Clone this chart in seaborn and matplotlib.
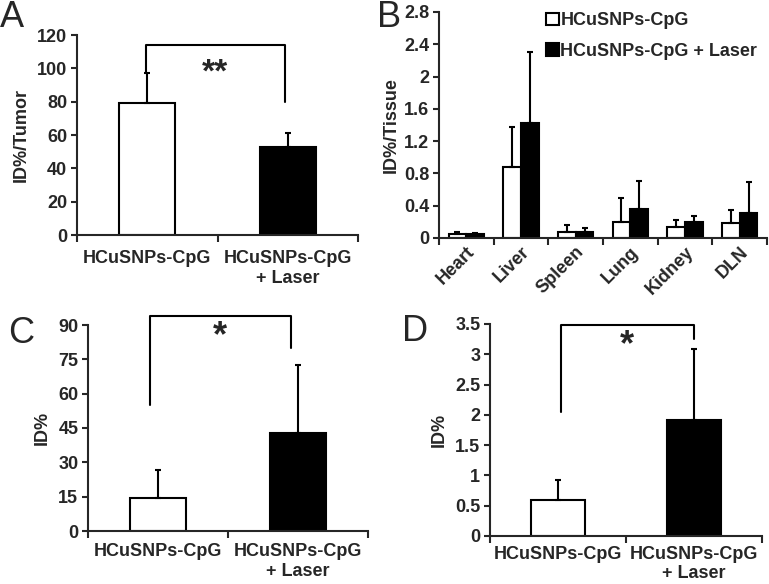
import numpy as np
import pandas as pd
import seaborn as sns
from matplotlib import pyplot as plt

# ---- data ----
groups = ["HCuSNPs-CpG", "HCuSNPs-CpG\n+ Laser"]
tumor_mean = [79, 53]
tumor_err = [18, 8]

organs = ["Heart", "Liver", "Spleen", "Lung", "Kidney", "DLN"]
treatments = ["HCuSNPs-CpG", "HCuSNPs-CpG + Laser"]
organ_mean_cpg = [0.05, 0.88, 0.07, 0.20, 0.14, 0.19]
organ_err_cpg = [0.02, 0.49, 0.09, 0.29, 0.08, 0.16]
organ_mean_laser = [0.055, 1.42, 0.075, 0.36, 0.20, 0.31]
organ_err_laser = [0.01, 0.88, 0.055, 0.35, 0.07, 0.39]

c_mean = [14.5, 43]
c_err = [12, 29.5]

d_mean = [0.6, 1.92]
d_err = [0.33, 1.16]

sns.set_style("ticks")
plt.rcParams['font.family'] = ['Liberation Sans', 'DejaVu Sans']
plt.rcParams['font.weight'] = 'bold'
plt.rcParams['axes.linewidth'] = 1.5

FS = 13
W, H = 769, 584
fig = plt.figure(figsize=(W / 100, H / 100), dpi=100)


def px_axes(l, r, t, b):
    return fig.add_axes([l / W, 1 - b / H, (r - l) / W, (b - t) / H])


def style_axis(ax, ylim, yticks, ylabels, ncat):
    sns.despine(ax=ax)
    ax.set_ylim(*ylim)
    ax.set_yticks(yticks)
    ax.set_yticklabels(ylabels, fontsize=FS, fontweight='bold')
    ax.set_xlim(-0.5, ncat - 0.5)
    ax.set_xticks(np.arange(-0.5, ncat, 1.0))
    ax.set_xticklabels([])
    ax.set_xticks(np.arange(ncat), minor=True)
    ax.tick_params(axis='x', which='major', length=5, width=1.5, direction='out')
    ax.tick_params(axis='x', which='minor', length=0)
    ax.tick_params(axis='y', length=4, width=1.5, direction='out', pad=3)
    ax.set_xlabel("")


def two_bar_panel(ax, means, errs):
    df = pd.DataFrame({"group": groups, "value": means})
    sns.barplot(data=df, x="group", y="value", hue="group", palette=["white", "black"],
                legend=False, edgecolor="black", linewidth=1.5, width=0.4, ax=ax, zorder=2)
    ax.errorbar(np.arange(len(means)), means, yerr=[np.zeros(len(errs)), errs], fmt='none',
                ecolor='black', elinewidth=1.5, capsize=2.5, capthick=1.5, zorder=3)


def group_labels(ax, pad):
    ax.set_xticklabels(groups, minor=True, fontsize=FS, fontweight='bold', linespacing=1.2)
    ax.tick_params(axis='x', which='minor', pad=pad)


def bracket(ax, x0, x1, ytop, yl, yr, text, ty, fs):
    ax.plot([x0, x0, x1, x1], [yl, ytop, ytop, yr], color='black', lw=1.5,
            clip_on=False, zorder=4)
    ax.text((x0 + x1) / 2, ty, text, ha='center', va='center', fontsize=fs,
            fontweight='bold')


# ---- Panel A ----
axA = px_axes(77, 358, 35, 235)
two_bar_panel(axA, tumor_mean, tumor_err)
style_axis(axA, (0, 120), np.arange(0, 121, 20), [str(v) for v in range(0, 121, 20)], 2)
group_labels(axA, 11)
axA.set_ylabel("ID%/Tumor", fontsize=FS, fontweight='bold', labelpad=5)
bracket(axA, -0.01, 0.98, 114, 97, 80, "**", 97, 24)

# ---- Panel B ----
axB = px_axes(439, 767, 12, 238)
dfB = pd.DataFrame({
    "organ": organs * 2,
    "treatment": [treatments[0]] * len(organs) + [treatments[1]] * len(organs),
    "value": organ_mean_cpg + organ_mean_laser,
})
sns.barplot(data=dfB, x="organ", y="value", hue="treatment", palette=["white", "black"],
            edgecolor="black", linewidth=1.5, width=0.65, ax=axB, zorder=2)
for cont, errs in zip(axB.containers, [organ_err_cpg, organ_err_laser]):
    xs = [p.get_x() + p.get_width() / 2 for p in cont.patches]
    hs = [p.get_height() for p in cont.patches]
    axB.errorbar(xs, hs, yerr=[np.zeros(len(errs)), errs], fmt='none', ecolor='black',
                 elinewidth=1.5, capsize=2, capthick=1.5, zorder=3)
bt = np.round(np.arange(0, 2.81, 0.4), 1)
style_axis(axB, (0, 2.8), bt, [f"{v:g}" for v in bt], len(organs))
axB.set_xticklabels(organs, minor=True, fontsize=FS, fontweight='bold', rotation=45,
                    ha='right', va='top', rotation_mode='anchor')
axB.tick_params(axis='x', which='minor', pad=4)
axB.set_ylabel("ID%/Tissue", fontsize=FS, fontweight='bold', labelpad=3)
leg = axB.legend(loc='upper right', bbox_to_anchor=(1.02, 1.07), frameon=False,
                 prop={'size': FS, 'weight': 'bold'}, handlelength=0.7, handleheight=0.7,
                 handletextpad=0.1, labelspacing=0.75)

# ---- Panel C ----
axC = px_axes(88, 368, 325, 531)
two_bar_panel(axC, c_mean, c_err)
style_axis(axC, (0, 90), np.arange(0, 91, 15), [str(v) for v in range(0, 91, 15)], 2)
group_labels(axC, 9)
axC.set_ylabel("ID%", fontsize=FS, fontweight='bold', labelpad=5)
bracket(axC, -0.06, 0.95, 94, 55, 80, "*", 85, 26)

# ---- Panel D ----
axD = px_axes(490, 762, 324, 536)
two_bar_panel(axD, d_mean, d_err)
dt = np.arange(0, 3.51, 0.5)
style_axis(axD, (0, 3.5), dt, [f"{v:g}" for v in dt], 2)
group_labels(axD, 7)
axD.set_ylabel("ID%", fontsize=FS, fontweight='bold', labelpad=5)
bracket(axD, 0.02, 1.0, 3.48, 2.05, 3.25, "*", 3.15, 26)

# ---- panel letters ----
for letter, x, y in [("A", 0, 0), ("B", 377, 0), ("C", 8, 316), ("D", 402, 314)]:
    fig.text(x / W, 1 - y / H, letter, fontsize=26, fontweight='normal',
             ha='left', va='top')

fig.savefig("out.png", dpi=100)
